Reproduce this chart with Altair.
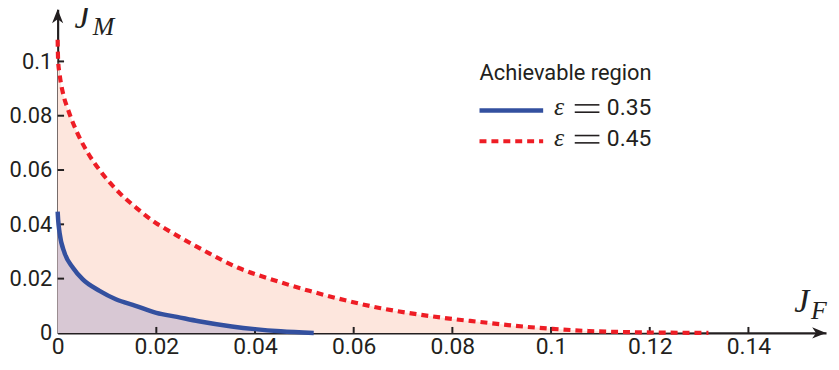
import altair as alt
import pandas as pd

# ---- data ----
red_x = [0, 0.0001, 0.0004, 0.0012, 0.0021, 0.0039, 0.0062, 0.009, 0.0123, 0.016, 0.0199,
         0.0219, 0.0299, 0.0366, 0.0437, 0.051, 0.0581, 0.0655, 0.0728, 0.0802, 0.0853,
         0.0928, 0.1003, 0.1077, 0.1154, 0.1319]
red_y = [0.108, 0.1002, 0.0953, 0.0874, 0.0823, 0.074, 0.0661, 0.0588, 0.052, 0.046, 0.0405,
         0.0383, 0.0301, 0.024, 0.0195, 0.0155, 0.0121, 0.0091, 0.0069, 0.0051, 0.0041,
         0.0026, 0.0015, 0.0007, 0.0003, 0.0]
blue_x = [0, 0.0001, 0.0004, 0.0014, 0.0031, 0.0051, 0.0085, 0.0118, 0.0158, 0.02, 0.0242,
          0.0286, 0.0353, 0.04, 0.0452, 0.0519]
blue_y = [0.0447, 0.0417, 0.0368, 0.0295, 0.024, 0.0197, 0.0155, 0.0124, 0.01, 0.0074, 0.0059,
          0.0043, 0.0024, 0.0014, 0.0006, 0.0]
x_ticks = [0, 0.02, 0.04, 0.06, 0.08, 0.1, 0.12, 0.14]
y_ticks = [0, 0.02, 0.04, 0.06, 0.08, 0.1]
legend_title = "Achievable region"
legend_labels = ["0.35", "0.45"]

# ---- styling ----
INK = "#231f20"
BLUE = "#33509f"
RED = "#ee1d25"
RED_FILL = "#fde6dd"
BLUE_FILL = "#d8c8d4"
SANS = "Roboto"
SERIF = "Liberation Serif"

XMAX = 0.15573
YMAX = 0.1192
xs = alt.Scale(domain=[0, XMAX], nice=False, zero=False)
ys = alt.Scale(domain=[0, YMAX], nice=False, zero=False)

x_axis = alt.Axis(values=x_ticks, format="~g", ticks=False, grid=False, title=None,
                  domainColor=INK, domainWidth=2.2, labelFont=SANS, labelFontSize=23,
                  labelColor=INK, labelPadding=3, labelFlush=False, labelOverlap=False)
y_axis = alt.Axis(values=y_ticks, format="~g", ticks=False, grid=False, title=None,
                  domainColor=INK, domainWidth=2.2, labelFont=SANS, labelFontSize=22,
                  labelColor=INK, labelPadding=6, labelOverlap=False, labelFlush=False)


def X():
    return alt.X("x:Q", scale=xs, axis=x_axis)


def Y():
    return alt.Y("y:Q", scale=ys, axis=y_axis)


red = pd.DataFrame({"x": red_x, "y": red_y})
blue = pd.DataFrame({"x": blue_x, "y": blue_y})

red_area = alt.Chart(red).mark_area(interpolate="monotone", color=RED_FILL, opacity=1).encode(x=X(), y=Y())
blue_area = alt.Chart(blue).mark_area(interpolate="monotone", color=BLUE_FILL, opacity=1).encode(x=X(), y=Y())

# inward tick marks
xt = pd.DataFrame({"x": x_ticks[1:], "y": [0.0] * (len(x_ticks) - 1), "y2": [0.0022] * (len(x_ticks) - 1)})
yt = pd.DataFrame({"y": y_ticks[1:], "x": [0.0] * (len(y_ticks) - 1), "x2": [0.0013] * (len(y_ticks) - 1)})
xtick_layer = alt.Chart(xt).mark_rule(color=INK, strokeWidth=2).encode(x=X(), y=Y(), y2="y2:Q")
ytick_layer = alt.Chart(yt).mark_rule(color=INK, strokeWidth=2).encode(x=X(), x2="x2:Q", y=Y())

red_line = alt.Chart(red).mark_line(interpolate="monotone", color=RED, strokeWidth=4.2,
                                    strokeDash=[7, 5]).encode(x=X(), y=Y())
blue_line = alt.Chart(blue).mark_line(interpolate="monotone", color=BLUE, strokeWidth=4.5).encode(x=X(), y=Y())

# axis arrowheads
up = pd.DataFrame({"x": [0.0], "y": [0.11664]})
right = pd.DataFrame({"x": [0.15433], "y": [0.0]})
arrow_up = alt.Chart(up).mark_point(shape="M0,-1L0.8,1L0,0.45L-0.8,1Z", size=196, filled=True,
                                    color=INK, opacity=1, strokeWidth=0).encode(x=X(), y=Y())
arrow_right = alt.Chart(right).mark_point(shape="M1,0L-1,0.8L-0.45,0L-1,-0.8Z", size=196, filled=True,
                                          color=INK, opacity=1, strokeWidth=0).encode(x=X(), y=Y())

# axis titles J_M and J_F
jbig = pd.DataFrame({"x": [0.0034, 0.1493], "y": [0.1123, 0.0077], "t": ["J", "J"]})
jsub = pd.DataFrame({"x": [0.0071, 0.1527], "y": [0.1096, 0.0050], "t": ["M", "F"]})
jbig_layer = alt.Chart(jbig).mark_text(font=SERIF, fontStyle="italic", fontSize=34, align="left",
                                       baseline="alphabetic", color=INK).encode(x=X(), y=Y(), text="t:N")
jsub_layer = alt.Chart(jsub).mark_text(font=SERIF, fontStyle="italic", fontSize=26, align="left",
                                       baseline="alphabetic", color=INK).encode(x=X(), y=Y(), text="t:N")

# legend (drawn by hand)
lt = pd.DataFrame({"x": [0.0855], "y": [0.0932], "t": [legend_title]})
title_layer = alt.Chart(lt).mark_text(font=SANS, fontSize=22, align="left", baseline="alphabetic",
                                      color=INK).encode(x=X(), y=Y(), text="t:N")
lb = pd.DataFrame({"x": [0.0855], "x2": [0.0984], "y": [0.0819]})
lr = pd.DataFrame({"x": [0.0855], "x2": [0.0984], "y": [0.0706]})
leg_blue = alt.Chart(lb).mark_rule(color=BLUE, strokeWidth=4.5).encode(x=X(), x2="x2:Q", y=Y())
leg_red = alt.Chart(lr).mark_rule(color=RED, strokeWidth=4.2, strokeDash=[7, 5]).encode(x=X(), x2="x2:Q", y=Y())
eps = pd.DataFrame({"x": [0.1006, 0.1006], "y": [0.0802, 0.0689], "t": ["ε", "ε"]})
eps_layer = alt.Chart(eps).mark_text(font=SERIF, fontStyle="italic", fontSize=26, align="left",
                                     baseline="alphabetic", color=INK).encode(x=X(), y=Y(), text="t:N")
# the "=" sign drawn as two bars per row
eqbars = pd.DataFrame({"x": [0.1048] * 4, "x2": [0.1098] * 4, "y": [0.0840, 0.0813, 0.0727, 0.0700]})
eq_layer = alt.Chart(eqbars).mark_rule(color=INK, strokeWidth=1.6).encode(x=X(), x2="x2:Q", y=Y())
num = pd.DataFrame({"x": [0.1113, 0.1113], "y": [0.0802, 0.0689], "t": legend_labels})
num_layer = alt.Chart(num).mark_text(font=SANS, fontSize=23, align="left",
                                     baseline="alphabetic", color=INK).encode(x=X(), y=Y(), text="t:N")

chart = alt.layer(
    red_area, blue_area, xtick_layer, ytick_layer, red_line, blue_line,
    arrow_up, arrow_right, jbig_layer, jsub_layer,
    title_layer, leg_blue, leg_red, eps_layer, eq_layer, num_layer,
).properties(
    width=774, height=326,
    autosize=alt.AutoSizeParams(type="none"),
    padding={"left": 50, "top": 0, "right": 5, "bottom": 30},
).configure_view(stroke=None)

chart.save("out.html", embed_options={"renderer": "svg", "actions": False})
